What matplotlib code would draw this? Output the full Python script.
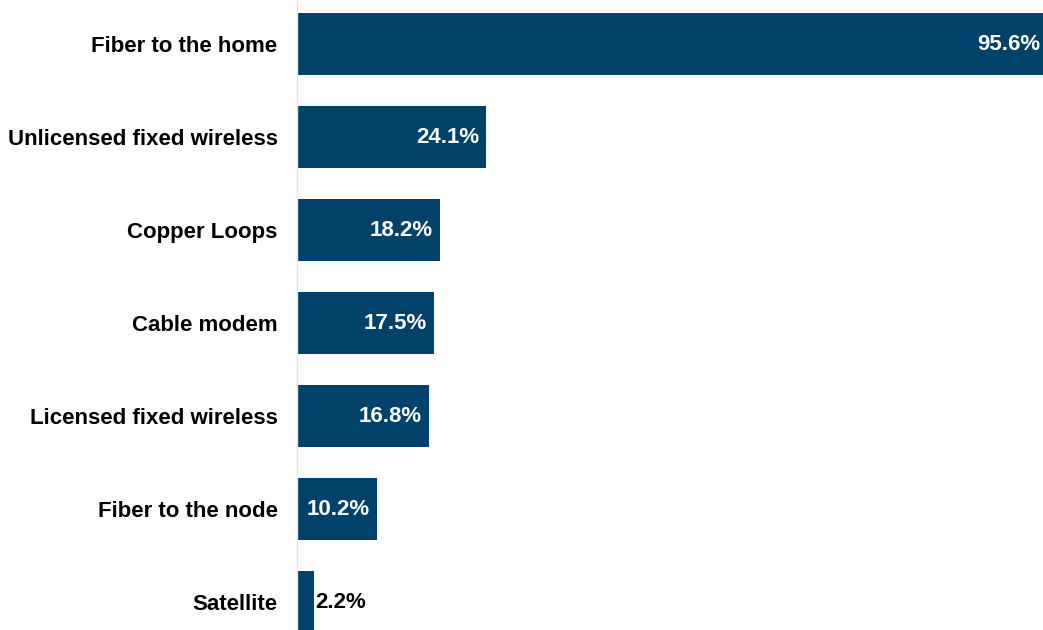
import matplotlib.pyplot as plt

categories = ["Fiber to the home", "Unlicensed fixed wireless", "Copper Loops",
              "Cable modem", "Licensed fixed wireless", "Fiber to the node", "Satellite"]
values = [95.6, 24.1, 18.2, 17.5, 16.8, 10.2, 2.2]

plt.rcParams['font.family'] = ['Liberation Sans', 'DejaVu Sans']

fig = plt.figure(figsize=(10.43, 6.3), dpi=100)
ax = fig.add_axes([0.2848, 0.0, 0.7152, 1.0])

pos = list(range(len(categories)))
ax.barh(pos, values, height=0.667, color="#00426A")

for i, v in enumerate(values):
    if v > 5:
        ax.annotate(f"{v}%", (v, i), xytext=(-5, -1), textcoords="offset points",
                    ha="right", va="center", color="white", fontsize=16,
                    fontweight="bold", annotation_clip=False)
    else:
        ax.annotate(f"{v}%", (v, i), xytext=(1, -1), textcoords="offset points",
                    ha="left", va="center", color="black", fontsize=16,
                    fontweight="bold", annotation_clip=False)

ax.set_yticks(pos)
ax.set_yticklabels(categories, fontsize=16, fontweight="bold")
ax.tick_params(axis="y", length=0, pad=14)
ax.set_xticks([])
ax.set_xlim(0, 95.1)
ax.set_ylim(6.306, -0.468)

for s in ["top", "right", "bottom"]:
    ax.spines[s].set_visible(False)
ax.spines["left"].set_color("#E6E6EC")
ax.spines["left"].set_linewidth(1)

fig.savefig("out.png", dpi=100)
